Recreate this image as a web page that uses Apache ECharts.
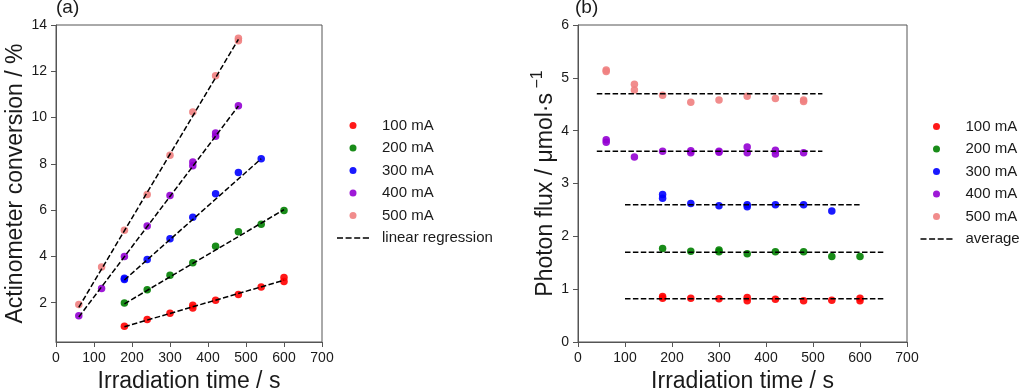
<!DOCTYPE html>
<html><head><meta charset="utf-8">
<script src="https://cdn.jsdelivr.net/npm/echarts@6/dist/echarts.min.js"></script>
<style>html,body{margin:0;padding:0;background:#fff}#c{width:1024px;height:388px}</style>
</head><body><div id="c"></div>
<script>
// ---- data ----
const seriesNames = ['100 mA', '200 mA', '300 mA', '400 mA', '500 mA'];
const colors = ['#ff0000', '#008000', '#0000ff', '#9400d3', '#f08080'];
const xTicks = [0, 100, 200, 300, 400, 500, 600, 700];
const yTicksA = [2, 4, 6, 8, 10, 12, 14];
const yTicksB = [0, 1, 2, 3, 4, 5, 6];

// panel (a): actinometer conversion / %
const conv100 = [[180,0.98],[240,1.27],[300,1.54],[360,1.89],[360,1.77],[420,2.10],[480,2.35],[540,2.68],[600,3.09],[600,2.92]];
const conv200 = [[180,1.99],[240,2.56],[300,3.19],[360,3.73],[420,4.44],[480,5.06],[540,5.39],[600,5.98]];
const conv300 = [[180,3.06],[180,3.00],[240,3.87],[300,4.76],[360,5.69],[420,6.71],[480,7.63],[540,8.22]];
const conv400 = [[60,1.43],[120,2.61],[180,3.99],[240,5.31],[300,6.63],[360,8.08],[360,7.92],[420,9.33],[420,9.19],[480,10.51]];
const conv500 = [[60,1.92],[120,3.54],[180,5.13],[240,6.67],[300,8.37],[360,10.24],[420,11.81],[480,13.43],[480,13.32]];
// regression lines (end points)
const reg100 = [[180,0.96],[600,2.97]];
const reg200 = [[180,1.95],[600,6.02]];
const reg300 = [[180,2.98],[540,8.22]];
const reg400 = [[60,1.38],[480,10.50]];
const reg500 = [[60,1.80],[480,13.38]];

// panel (b): photon flux / umol s-1
const flux100 = [[180,0.86],[180,0.83],[240,0.83],[300,0.82],[360,0.84],[360,0.78],[420,0.81],[480,0.78],[540,0.79],[600,0.83],[600,0.78]];
const flux200 = [[180,1.77],[240,1.72],[300,1.74],[300,1.71],[360,1.67],[420,1.71],[480,1.71],[540,1.62],[600,1.62]];
const flux300 = [[180,2.79],[180,2.72],[240,2.62],[300,2.58],[360,2.60],[360,2.56],[420,2.60],[480,2.60],[540,2.48]];
const flux400 = [[60,3.83],[60,3.78],[120,3.50],[180,3.61],[240,3.62],[240,3.58],[300,3.61],[300,3.59],[360,3.69],[360,3.58],[420,3.63],[420,3.56],[480,3.58]];
const flux500 = [[60,5.15],[60,5.12],[120,4.88],[120,4.77],[180,4.67],[240,4.54],[300,4.58],[360,4.65],[420,4.61],[480,4.58],[480,4.55]];
const avgLevels = [0.82, 1.70, 2.60, 3.61, 4.70];
const avgStart = [100, 100, 100, 40, 40];
const avgEnd = [650, 650, 600, 520, 520];

// ---- chart ----
const FONT = '"Liberation Sans", Arial, sans-serif';
const TXT = '#1a1a1a';
const FRAME = '#555';
const convSets = [conv100, conv200, conv300, conv400, conv500];
const regSets = [reg100, reg200, reg300, reg400, reg500];
const fluxSets = [flux100, flux200, flux300, flux400, flux500];
const dash = { color: '#000', width: 1.5, type: [5.5, 2.4] };
const dashIcon = 'path://M0,0h6v1.5h-6z M8.6,0h6v1.5h-6z M17.2,0h6v1.5h-6z M25.8,0h6.2v1.5h-6.2z';

const series = [];
seriesNames.forEach((n, i) => {
  series.push({ type: 'scatter', name: n, xAxisIndex: 0, yAxisIndex: 0, data: convSets[i],
    symbol: 'circle', symbolSize: 7.5, itemStyle: { color: colors[i], opacity: 0.9 }, z: 2 });
});
regSets.forEach(d => {
  series.push({ type: 'line', name: 'linear regression', xAxisIndex: 0, yAxisIndex: 0, data: d,
    symbol: 'none', lineStyle: dash, itemStyle: { color: '#000' }, z: 3 });
});
seriesNames.forEach((n, i) => {
  series.push({ type: 'scatter', name: n, xAxisIndex: 1, yAxisIndex: 1, data: fluxSets[i],
    symbol: 'circle', symbolSize: 7.5, itemStyle: { color: colors[i], opacity: 0.9 }, z: 2 });
});
avgLevels.forEach((v, i) => {
  series.push({ type: 'line', name: 'average', xAxisIndex: 1, yAxisIndex: 1,
    data: [[avgStart[i], v], [avgEnd[i], v]],
    symbol: 'none', lineStyle: dash, itemStyle: { color: '#000' }, z: 3 });
});

function xAxisCfg(gi) {
  return {
    gridIndex: gi, type: 'value', min: 0, max: 700, interval: 100,
    axisLine: { show: true, onZero: false, lineStyle: { color: FRAME, width: 1 } },
    axisTick: { show: true, length: 5, lineStyle: { color: FRAME } },
    axisLabel: { fontSize: 14, color: TXT, margin: 9, fontFamily: FONT, showMinLabel: true, showMaxLabel: true },
    splitLine: { show: false },
    name: 'Irradiation time / s', nameLocation: 'middle', nameGap: 27,
    nameTextStyle: { fontSize: 23, color: TXT, fontFamily: FONT }
  };
}

const legendCommon = {
  orient: 'vertical', itemWidth: 32, itemHeight: 7, itemGap: 7.5, selectedMode: false, padding: 0,
  textStyle: { fontSize: 15, color: TXT, fontFamily: FONT, padding: [0, 0, 0, 8] }
};

const option = {
  animation: false,
  backgroundColor: '#fff',
  textStyle: { fontFamily: FONT },
  title: [
    { text: '(a)', left: 56, top: -2, padding: 0, textStyle: { fontSize: 19, fontWeight: 'normal', color: TXT, fontFamily: FONT } },
    { text: '(b)', left: 575, top: -2, padding: 0, textStyle: { fontSize: 19, fontWeight: 'normal', color: TXT, fontFamily: FONT } }
  ],
  grid: [
    { left: 56, top: 25, width: 266, height: 317, outerBoundsMode: 'none', containLabel: false, show: true, borderColor: FRAME, borderWidth: 1, backgroundColor: 'transparent' },
    { left: 578, top: 25, width: 329, height: 317, outerBoundsMode: 'none', containLabel: false, show: true, borderColor: FRAME, borderWidth: 1, backgroundColor: 'transparent' }
  ],
  xAxis: [xAxisCfg(0), xAxisCfg(1)],
  yAxis: [
    {
      gridIndex: 0, type: 'value', min: 0.3, max: 14,
      axisLine: { show: true, onZero: false, lineStyle: { color: FRAME } },
      axisTick: { show: true, length: 5, customValues: yTicksA, lineStyle: { color: FRAME } },
      axisLabel: { fontSize: 14, color: TXT, margin: 9, fontFamily: FONT, customValues: yTicksA },
      splitLine: { show: false },
      name: 'Actinometer conversion / %', nameLocation: 'middle', nameGap: 29, nameRotate: 90,
      nameTextStyle: { fontSize: 23, color: TXT, fontFamily: FONT }
    },
    {
      gridIndex: 1, type: 'value', min: 0, max: 6, interval: 1,
      axisLine: { show: true, onZero: false, lineStyle: { color: FRAME } },
      axisTick: { show: true, length: 5, lineStyle: { color: FRAME } },
      axisLabel: { fontSize: 14, color: TXT, margin: 9, fontFamily: FONT, customValues: yTicksB },
      splitLine: { show: false },
      name: '{m|Photon flux / μmol·s}{s| −1}', nameLocation: 'middle', nameGap: 17, nameRotate: 90,
      nameTextStyle: {
        color: TXT, fontFamily: FONT,
        rich: {
          m: { fontSize: 23, lineHeight: 31, color: TXT, fontFamily: FONT },
          s: { fontSize: 16, lineHeight: 23, verticalAlign: 'top', color: TXT, fontFamily: FONT }
        }
      }
    }
  ],
  legend: [
    Object.assign({}, legendCommon, {
      left: 337, top: 118,
      data: seriesNames.map(n => ({ name: n, icon: 'circle' })).concat([{ name: 'linear regression', icon: dashIcon }])
    }),
    Object.assign({}, legendCommon, {
      left: 920.5, top: 119,
      data: seriesNames.map(n => ({ name: n, icon: 'circle' })).concat([{ name: 'average', icon: dashIcon }])
    })
  ],
  series: series
};

const chart = echarts.init(document.getElementById('c'), null, { renderer: 'canvas' });
chart.setOption(option);
</script></body></html>
